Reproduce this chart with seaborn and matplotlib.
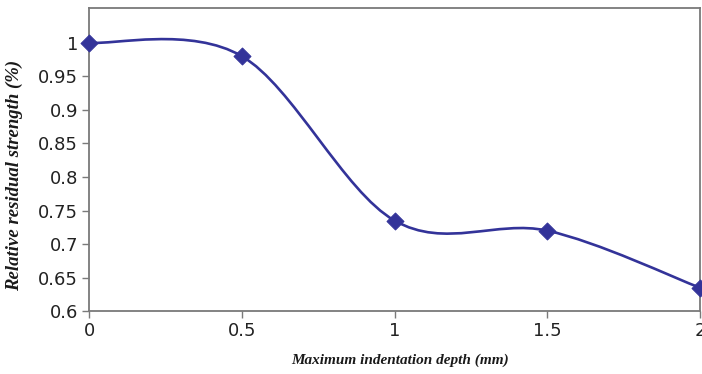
import numpy as np
import matplotlib
matplotlib.use("Agg")
import matplotlib.pyplot as plt
from matplotlib.path import Path
from matplotlib.patches import PathPatch
import seaborn as sns
import pandas as pd

# data
depth = [0.0, 0.5, 1.0, 1.5, 2.0]
strength = [1.0, 0.98, 0.735, 0.72, 0.635]
y_ticks = [0.6, 0.65, 0.7, 0.75, 0.8, 0.85, 0.9, 0.95, 1.0]
y_tick_labels = ["0.6", "0.65", "0.7", "0.75", "0.8", "0.85", "0.9", "0.95", "1"]
x_ticks = [0, 0.5, 1, 1.5, 2]
x_tick_labels = ["0", "0.5", "1", "1.5", "2"]

line_color = "#333399"
spine_color = "#7a7a7a"

df = pd.DataFrame({"depth": depth, "strength": strength})

sns.set_theme(style="white")
plt.rcParams["font.family"] = ["DejaVu Sans"]

fig = plt.figure(figsize=(7.02, 3.74), dpi=100)
ax = fig.add_axes([0.127, 0.168, 0.870, 0.811])

# smoothed line like a spreadsheet "smoothed line" (cubic Bezier, Catmull-Rom control points)
pts = np.column_stack([depth, strength])
verts = [tuple(pts[0])]
codes = [Path.MOVETO]
n = len(pts)
for i in range(n - 1):
    p_prev = pts[i - 1] if i > 0 else pts[i]
    p_next2 = pts[i + 2] if i + 2 < n else pts[i + 1]
    c1 = pts[i] + (pts[i + 1] - p_prev) / 6.0
    c2 = pts[i + 1] - (p_next2 - pts[i]) / 6.0
    verts += [tuple(c1), tuple(c2), tuple(pts[i + 1])]
    codes += [Path.CURVE4] * 3
patch = PathPatch(Path(verts, codes), facecolor="none", edgecolor=line_color,
                  linewidth=1.9, transform=ax.transData, zorder=2, clip_on=False)
ax.add_patch(patch)

sns.scatterplot(data=df, x="depth", y="strength", marker="D", s=75,
                color=line_color, edgecolor=line_color, ax=ax, zorder=3, clip_on=False)

ax.set_xlim(0, 2)
ax.set_ylim(0.6, 1.052)
ax.set_xticks(x_ticks)
ax.set_xticklabels(x_tick_labels)
ax.set_yticks(y_ticks)
ax.set_yticklabels(y_tick_labels)
ax.tick_params(axis="both", which="major", direction="out", length=5, width=1,
               color=spine_color, labelsize=13, labelcolor="#222222", pad=3, bottom=True, left=True)

for side in ["left", "bottom", "top", "right"]:
    ax.spines[side].set_visible(True)
    ax.spines[side].set_color(spine_color)
    ax.spines[side].set_linewidth(1.3)

ax.set_xlabel("Maximum indentation depth (mm)", family="Liberation Serif", style="italic",
              weight="bold", size=11, color="#1a1a1a")
ax.set_ylabel("Relative residual strength (%)", family="Liberation Serif", style="italic",
              weight="bold", size=13.5, color="#1a1a1a")
ax.xaxis.set_label_coords(0.509, -0.139)
ax.yaxis.set_label_coords(-0.108, 0.449)
ax.grid(False)

fig.savefig("out.png", dpi=100)
